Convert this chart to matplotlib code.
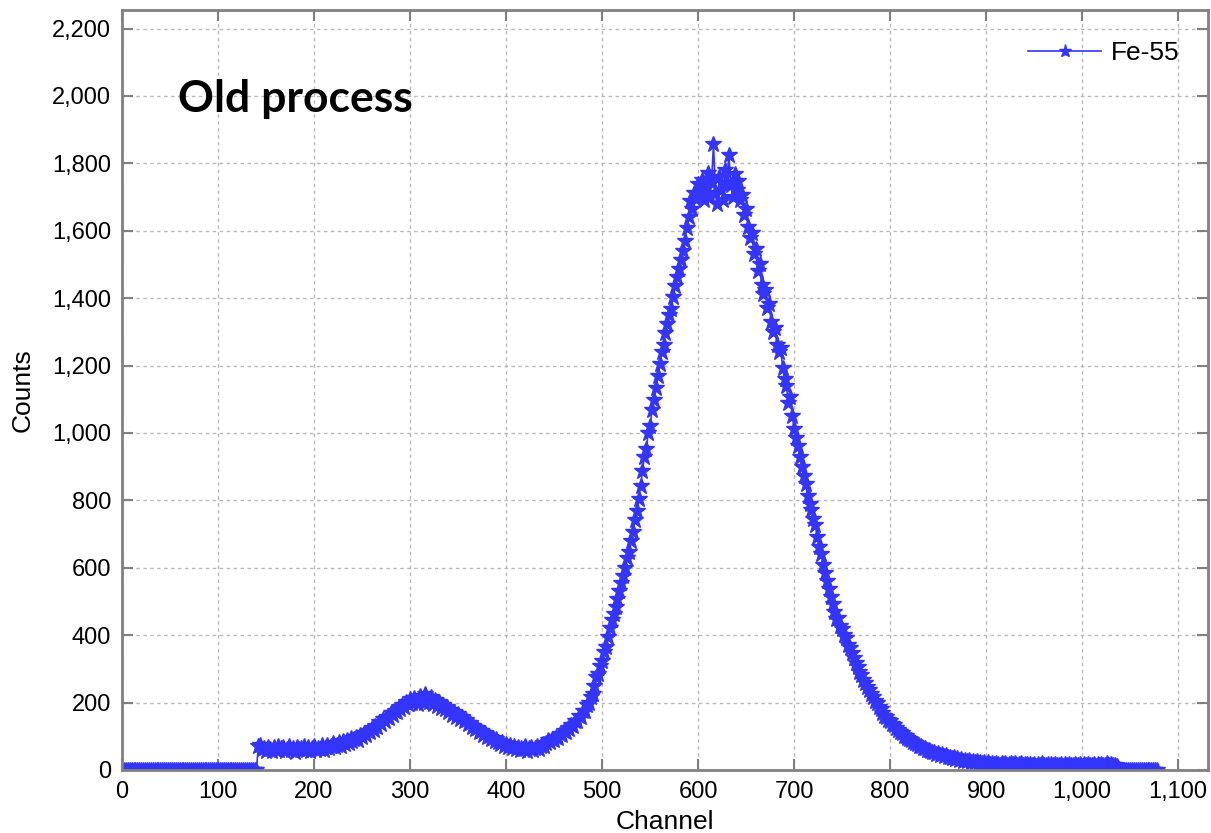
import matplotlib.pyplot as plt
import numpy as np
from matplotlib.ticker import FuncFormatter, MultipleLocator

# Fe-55 spectrum, counts read every 2 channels
channels = np.arange(0, 1080, 2)

counts_low = [  # 0 .. 140
    0, 0, 0, 0, 0, 0, 0, 0, 0, 0, 0, 0, 0, 0, 0, 0, 0, 0, 0, 0, 0, 0, 0, 0,
    0, 0, 0, 0, 0, 0, 0, 0, 0, 0, 0, 0, 0, 0, 0, 0, 0, 0, 0, 0, 0, 0, 0, 0,
    0, 0, 0, 0, 0, 0, 0, 0, 0, 0, 0, 0, 0, 0, 0, 0, 0, 0, 0, 0, 0, 0, 0,
]
counts_main = [
    # 142 .. 190
    70, 74, 61, 66, 57, 69, 63, 55, 67, 60, 72, 58, 64, 69, 56, 62, 71, 59, 65, 54, 68, 61, 66, 58, 70,
    # 192 .. 240
    60, 67, 56, 64, 71, 58, 66, 62, 73, 60, 68, 75, 64, 70, 79, 67, 74, 82, 71, 85, 77, 88, 80, 94, 86,
    # 242 .. 290
    92, 98, 90, 104, 97, 110, 103, 116, 112, 124, 118, 132, 129, 141, 136, 150, 146, 158, 155, 168, 162, 176, 171, 186, 180,
    # 292 .. 340
    194, 186, 202, 195, 210, 198, 215, 204, 196, 220, 207, 199, 226, 212, 203, 218, 196, 208, 190, 201, 185, 194, 180, 188, 172,
    # 342 .. 390
    178, 164, 172, 158, 166, 150, 156, 144, 149, 137, 140, 128, 132, 121, 124, 113, 116, 105, 109, 98, 102, 92, 96, 87, 91,
    # 392 .. 440
    82, 77, 84, 72, 78, 68, 75, 64, 71, 62, 69, 58, 66, 61, 70, 57, 64, 68, 60, 66, 72, 63, 70, 76, 71,
    # 442 .. 490
    80, 88, 84, 93, 90, 99, 96, 107, 104, 116, 112, 124, 122, 134, 132, 146, 144, 160, 158, 174, 176, 194, 198, 218, 226,
    # 492 .. 540
    250, 276, 286, 308, 322, 350, 365, 396, 420, 446, 462, 485, 508, 530, 556, 575, 598, 628, 646, 678, 706, 742, 768, 804, 842,
    # 542 .. 590
    886, 930, 952, 1000, 1022, 1068, 1098, 1132, 1168, 1205, 1240, 1262, 1298, 1322, 1350, 1368, 1402, 1436, 1462, 1488, 1512, 1540, 1570, 1608, 1640,
    # 592 .. 640
    1688, 1665, 1712, 1694, 1740, 1706, 1752, 1690, 1728, 1770, 1700, 1745, 1858, 1712, 1680, 1760, 1722, 1690, 1780, 1742, 1826, 1735, 1700, 1768, 1722,
    # 642 .. 690
    1748, 1690, 1705, 1648, 1665, 1610, 1578, 1592, 1530, 1545, 1482, 1500, 1440, 1412, 1425, 1370, 1382, 1330, 1300, 1312, 1262, 1240, 1252, 1192, 1160,
    # 692 .. 740
    1138, 1090, 1108, 1050, 1012, 985, 962, 928, 900, 872, 848, 812, 790, 772, 745, 728, 690, 662, 640, 608, 585, 560, 538, 512, 494,
    # 742 .. 790
    470, 448, 452, 428, 418, 400, 392, 372, 362, 346, 332, 318, 306, 290, 282, 268, 258, 246, 238, 226, 218, 206, 198, 186, 180,
    # 792 .. 840
    170, 160, 156, 148, 144, 136, 133, 124, 120, 114, 110, 102, 100, 95, 92, 88, 84, 80, 76, 72, 70, 66, 64, 60, 60,
    # 842 .. 890
    56, 52, 54, 48, 50, 44, 46, 42, 44, 38, 40, 36, 38, 33, 35, 30, 34, 28, 31, 26, 30, 25, 28, 23, 26,
    # 892 .. 940
    22, 25, 20, 23, 19, 24, 18, 21, 17, 22, 19, 16, 21, 18, 20, 16, 19, 22, 17, 20, 16, 18, 21, 15, 19,
    # 942 .. 990
    17, 14, 19, 16, 18, 13, 17, 15, 20, 14, 16, 18, 13, 17, 15, 19, 14, 16, 18, 13, 17, 15, 19, 14, 16,
    # 992 .. 1036
    18, 14, 16, 19, 13, 17, 15, 18, 14, 16, 19, 13, 17, 15, 18, 14, 16, 20, 15, 17, 14, 16, 13,
]
counts_tail = [  # 1038 .. 1078
    0, 0, 0, 0, 0, 0, 0, 0, 0, 0, 0, 0, 0, 0, 0, 0, 0, 0, 0, 0, 0,
]

counts = np.array(counts_low + counts_main + counts_tail)

plt.rcParams["font.family"] = ["Liberation Sans", "DejaVu Sans"]

fig = plt.figure(figsize=(12.11, 8.33), dpi=100)
ax = fig.add_axes([122 / 1211, 63 / 833, 1086 / 1211, 760 / 833])

blue = "#3434FF"
ax.plot(channels, counts, color=blue, lw=1.2, marker="*", ms=12,
        mec=blue, mfc=blue, label="Fe-55")

ax.set_xlim(0, 1131)
ax.set_ylim(0, 2255)
ax.xaxis.set_major_locator(MultipleLocator(100))
ax.yaxis.set_major_locator(MultipleLocator(200))
comma = FuncFormatter(lambda v, _: f"{int(v):,}")
ax.xaxis.set_major_formatter(comma)
ax.yaxis.set_major_formatter(comma)

ax.grid(True, color="#b8b8b8", linestyle=(0, (2.5, 2.5)), lw=1)
ax.set_axisbelow(True)
for s in ax.spines.values():
    s.set_color("#808080")
    s.set_linewidth(2)
ax.tick_params(direction="in", length=8, width=1.5, color="#808080",
               top=True, right=True, labelsize=17, pad=8)

ax.set_xlabel("Channel", fontsize=19)
ax.xaxis.set_label_coords(0.5, -0.052)
ax.set_ylabel("Counts", fontsize=19)
ax.yaxis.set_label_coords(-0.080, 0.5)

ax.text(0.0516, 0.866, "Old process", transform=ax.transAxes,
        fontsize=32, fontweight="bold", family=["Lato", "DejaVu Sans"],
        va="baseline", ha="left")

ax.legend(loc="center right", bbox_to_anchor=(0.974, 0.943), frameon=False,
          fontsize=19, handlelength=2.77, handletextpad=0.38, markerscale=0.8,
          borderpad=0, borderaxespad=0, numpoints=1)

fig.savefig("out.png", dpi=100)
